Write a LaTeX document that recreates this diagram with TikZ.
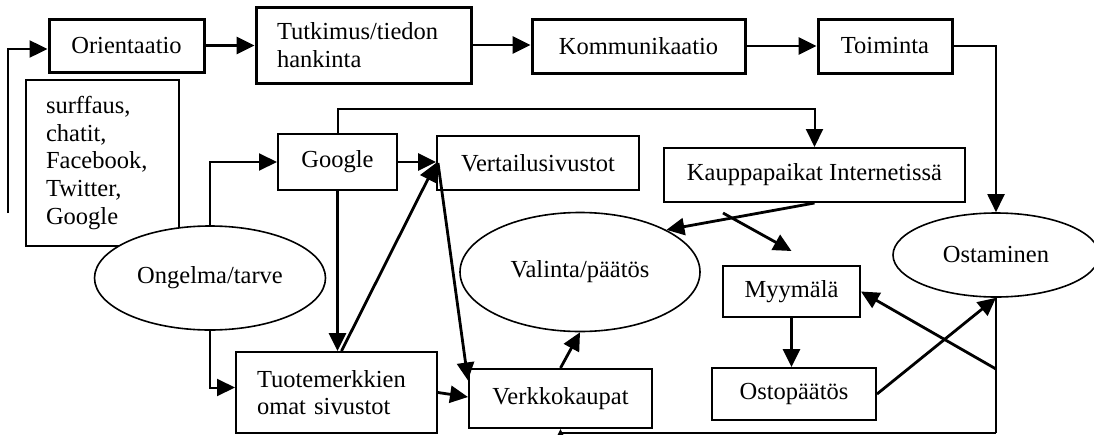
\documentclass[tikz,border=0pt]{standalone}
\usepackage{fontspec}
\setmainfont{Liberation Serif}
\usetikzlibrary{arrows.meta,shapes.geometric}
\begin{document}
\begin{tikzpicture}[x=1pt,y=-1pt,
  every node/.style={font=\fontsize{24.5}{27.6}\selectfont, inner sep=0pt},
  topbox/.style={draw, line width=3pt, rectangle, fill=white},
  box/.style={draw, line width=2pt, rectangle, fill=white},
  oval/.style={draw, ellipse, line width=1.6pt, fill=white},
  tip/.style={-{Triangle[length=18pt,width=17pt]}},
  thk/.style={line width=2.8pt, tip},
  thn/.style={line width=2pt},
  thnarr/.style={line width=2pt, tip},
]
\useasboundingbox (0,0) rectangle (1094,434);

% top row
\node[topbox, minimum width=155pt, minimum height=53pt] (ori) at (126.5,45.5) {Orientaatio};
\node[topbox, minimum height=76pt, text width=173pt, inner xsep=21pt, align=left] (tut) at (363.5,45) {Tutkimus/tiedon\\hankinta};
\node[topbox, minimum width=213pt, minimum height=54pt] (kom) at (638.5,46) {Kommunikaatio};
\node[topbox, minimum width=134pt, minimum height=54pt] (toi) at (885,46) {Toiminta};

% left box and problem ellipse
\node[box, minimum height=166pt, text width=113pt, inner xsep=20pt, align=left] (surf) at (102.5,163) {surffaus,\\chatit,\\Facebook,\\Twitter,\\Google};
\node[oval, minimum width=231pt, minimum height=104pt] (ong) at (210,278) {Ongelma/tarve};

% middle
\node[box, minimum width=119pt, minimum height=56pt] (goo) at (337.5,162) {Google};
\node[box, minimum width=202pt, minimum height=54pt] (vert) at (538,163) {Vertailusivustot};
\node[box, minimum width=301pt, minimum height=54pt] (kaup) at (814.5,175) {Kauppapaikat Internetissä};
\node[oval, minimum width=240pt, minimum height=119pt] (val) at (580,272) {Valinta/päätös};
\node[box, minimum width=137pt, minimum height=51pt] (myy) at (791.5,291.5) {Myymälä};
\node[oval, minimum width=206pt, minimum height=84pt] (ost) at (996,255) {Ostaminen};

% bottom row
\node[box, minimum height=81pt, text width=159pt, inner xsep=21pt, align=left] (tuo) at (336.5,392.5) {Tuotemerkkien\\omat sivustot};
\node[box, minimum width=183pt, minimum height=59pt] (verk) at (560.5,398.5) {Verkkokaupat};
\node[box, minimum width=164pt, minimum height=52pt] (osto) at (794,394) {Ostopäätös};

% free ends
\coordinate (fb) at (8,213);
\coordinate (my1) at (723,213);

% connectors: top row
\draw[line width=2.5pt, tip] (fb) |- ([yshift=-3.5pt]ori.west);
\draw[thk] (ori.east) -- (ori.east -| tut.west);
\draw[thk] (tut.east) -- (tut.east -| kom.west);
\draw[thk] (kom.east) -- (kom.east -| toi.west);
\draw[thnarr] (toi.east) -| (ost.north);

% google and problem
\draw[thnarr] (goo.north) -- ++(0,-24) -| (kaup.north);
\draw[thnarr] (ong.north) |- (goo.west);
\draw[thnarr] (ong.south) |- ([yshift=5pt]tuo.west);
\draw[thk] (goo.east) -- (goo.east -| vert.west);
\draw[thk] (goo.south) -- (goo.south |- tuo.north);
\draw[thk] ([xshift=5pt]tuo.north) -- (vert.west);
\draw[thk] ([xshift=2pt]vert.west) -- ([yshift=18pt]verk.west);
\draw[thk] (tuo.east) -- ([yshift=1.5pt]verk.west);
\draw[thk] (verk.north) -- (val.south);

% right side
\draw[thk] (kaup.south) -- (val.26);
\draw[thk] (my1) -- ([yshift=14pt]myy.north);
\draw[thk] (myy.south) -- (myy.south |- osto.north);
\draw[thk] (osto.east) -- (ost.south);
\draw[thn] (ost.south) -- (ost.south |- 0,432.5);
\draw[thnarr] (ost.south |- 0,432.5) -| (verk.south);
\draw[thk] (ost.south |- 0,369) -- (myy.east);
\end{tikzpicture}
\end{document}
